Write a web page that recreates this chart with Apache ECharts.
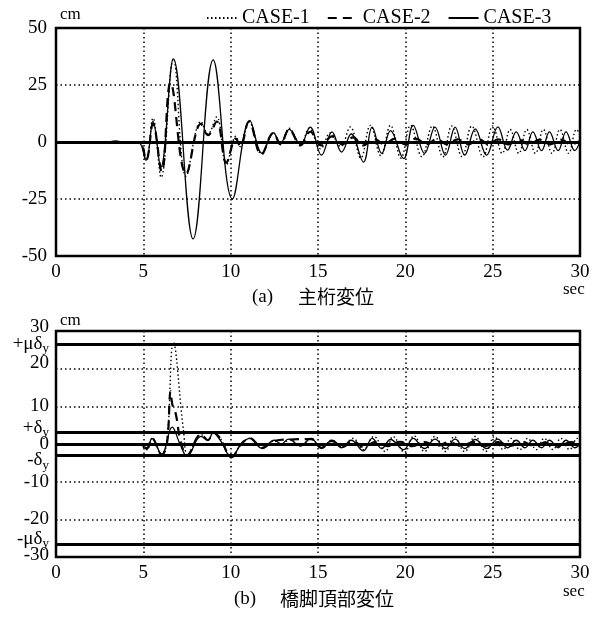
<!DOCTYPE html>
<html><head><meta charset="utf-8">
<script src="https://cdn.jsdelivr.net/npm/echarts@6/dist/echarts.min.js"></script>
<style>html,body{margin:0;padding:0;background:#fff}#c{width:612px;height:618px}</style>
</head><body><div id="c"></div>
<script>
// ---- data ----
const caseNames = ['CASE-1', 'CASE-2', 'CASE-3'];
const xTickInterval = 5;
const xRange = [0, 30];
const girderRange = [-50, 50];
const girderTickInterval = 25;
const pierRange = [-30, 30];
const pierTickInterval = 10;
const deltaY = 3;
const muDeltaY = 26.5;
const pierRefValues = [0, deltaY, -deltaY, muDeltaY, -muDeltaY];
const pierRefTexts = ['', '{nu|+δ}{su|y}', '{nd|-δ}{sd|y}', '{n|+μδ}{s|y}', '{nu|-μδ}{su|y}'];
const pierTickValues = [-30, -20, -10, 0, 10, 20, 30];
const pierTickTexts = ['{u3|-30}', '-20', '-10', '0', '10', '{u|20}', '{u2|30}'];
const captionA = ['(a)', '主桁変位'];
const captionB = ['(b)', '橋脚頂部変位'];

// (a) girder displacement [sec, cm]
const girderCase1 = [[0,0],[4.7,0],[5.15,-8],[5.55,10.5],[6.02,-15.5],[6.72,36.5],[7.45,-15],[8.3,9],[8.7,3.5],[9.2,11],[9.75,-10],[10.3,2.5],[10.55,-2],[11.05,9],[11.75,-5],[12.45,4],[12.85,-1],[13.35,6],[14.0,-1.5],[14.5,6],[15.15,-3],[15.7,4],[16.3,-2],[16.85,6.6],[17.45,-7],[18.0,7.3],[18.6,-6],[19.15,7.3],[19.75,-7],[20.3,7.3],[20.95,-6.5],[21.55,7],[22.15,-6.5],[22.65,7],[23.25,-6.5],[23.8,7],[24.45,-6.5],[25.0,7],[25.55,-5],[26.0,5.5],[26.5,-5],[26.95,5.5],[27.45,-5],[27.9,5.5],[28.4,-5],[28.85,5.5],[29.35,-5],[29.8,5.5],[30,3]];
const girderCase2 = [[0,0],[4.7,0],[5.15,-8],[5.55,8],[6.05,-13],[6.56,26],[7.45,-14],[8.3,8],[8.7,3],[9.2,9],[9.75,-9],[10.3,1.5],[10.55,-2],[11.05,9],[11.75,-5.5],[12.45,4],[12.85,-1],[13.35,5.5],[14.0,-1.5],[14.55,4.5],[15.2,-1.5],[15.8,2.5],[16.4,-1],[17.0,2],[17.6,-1.5],[18.2,1.5],[18.8,-1],[19.4,1.5],[20.0,-1],[20.6,1.5],[21.2,-1],[21.8,1.2],[22.4,-1],[23.0,1.2],[23.6,-1],[24.2,1.2],[24.8,-1],[25.3,1.2],[25.9,-1],[26.5,1],[27.1,-1],[27.7,1],[28.3,-1],[28.9,1],[29.5,-1],[30,0.5]];
const girderCase3 = [[0,0],[3.0,0],[3.4,0.5],[3.8,0],[4.7,0],[5.15,-8],[5.55,9],[6.0,-11],[6.72,36.5],[7.85,-42.5],[9.0,36],[10.1,-25],[11.1,9.5],[11.8,-5],[12.45,4],[12.85,-0.5],[13.35,5.5],[14.0,-1],[14.55,6.5],[15.2,-5.8],[15.8,4.4],[16.35,-4.4],[16.9,3.5],[17.6,-8.8],[18.1,6.5],[18.65,-5],[19.15,5],[19.9,-7.3],[20.45,7.3],[21.1,-5],[21.7,6.5],[22.3,-5.8],[22.85,6.5],[23.4,-5.8],[24.0,5.8],[24.65,-5.8],[25.3,6.6],[25.85,-3.6],[26.35,4.4],[26.85,-3.8],[27.3,4.4],[27.8,-3.8],[28.25,4.4],[28.75,-3.8],[29.2,4.4],[29.7,-3.8],[30,0.5]];

// (b) pier-top displacement [sec, cm]
const pierCase1 = [[0,0],[4.7,0],[5.2,-1.5],[5.5,1.5],[6.05,-2.8],[6.35,0.5],[6.72,27],[7.3,3.5],[7.55,-3],[8.3,2.5],[8.7,1],[9.0,3],[9.4,1.5],[10.05,-3.5],[10.6,0],[11.1,1.5],[11.8,-1],[12.5,0.8],[12.9,0],[13.4,1.2],[14.0,-0.5],[14.6,1.5],[15.2,-1],[15.8,1],[16.4,-0.8],[17.0,1.5],[17.6,-1.5],[18.2,2],[18.85,-2],[19.3,2],[19.95,-2.2],[20.5,2.2],[21.1,-2],[21.7,2],[22.3,-2],[22.8,2],[23.4,-2],[24.0,2],[24.6,-2],[25.1,2],[25.6,-1.5],[26.05,1.5],[26.55,-1.5],[27.0,1.5],[27.5,-1.5],[27.95,1.5],[28.45,-1.5],[28.9,1.5],[29.4,-1.5],[29.85,1.5],[30,1]];
const pierCase2 = [[0,0],[4.7,0],[5.2,-1.2],[5.5,1.5],[6.05,-2.8],[6.35,0],[6.56,14],[6.66,10.5],[6.8,9],[6.92,6.5],[7.1,1.5],[7.5,-3],[8.3,2.5],[8.7,1],[9.0,3],[9.4,1.5],[10.05,-3.5],[10.6,0],[11.1,1.5],[11.8,-1],[12.5,0.8],[13.4,1.2],[14.6,1.3],[15.2,-1],[15.8,0.8],[16.4,-0.8],[17.0,0.8],[17.6,-0.8],[18.3,0.6],[19.0,-0.6],[19.7,0.6],[20.4,-0.6],[21.1,0.5],[21.8,-0.5],[22.5,0.5],[23.2,-0.5],[23.9,0.5],[24.6,-0.5],[25.3,0.5],[26.0,-0.5],[26.7,0.5],[27.4,-0.5],[28.1,0.5],[28.8,-0.5],[29.5,0.5],[30,0]];
const pierCase3 = [[0,0],[4.7,0],[5.2,-1],[5.5,1.5],[6.05,-2.8],[6.65,4.5],[7.1,0],[7.5,-3.2],[8.3,2],[8.7,1],[9.0,3],[9.4,1],[10.05,-3.5],[10.6,0],[11.1,1.5],[11.8,-1.2],[12.5,1],[12.9,0],[13.3,1.3],[14.0,-0.5],[14.6,1.5],[15.2,-1.2],[15.8,1],[16.35,-1],[16.9,1],[17.6,-1.8],[18.1,1.5],[18.65,-1.2],[19.15,1.2],[19.9,-1.5],[20.45,1.5],[21.1,-1.2],[21.7,1.3],[22.3,-1.2],[22.85,1.3],[23.4,-1.2],[24.0,1.2],[24.65,-1.2],[25.3,1.3],[25.85,-1],[26.35,1],[26.85,-1],[27.3,1],[27.8,-1],[28.25,1],[28.75,-1],[29.2,1],[29.7,-1],[30,0]];

// ---- chart ----
const SERIF = '"Liberation Serif", "DejaVu Serif", serif';
const CJK = '"Noto Sans CJK JP", sans-serif';
const lineStyles = [
  { color: '#000', width: 1.4, type: [1.5, 2.5] },
  { color: '#000', width: 2.2, type: [9, 6] },
  { color: '#000', width: 1.3, type: 'solid' }
];
const base = { fontFamily: SERIF, fontSize: 19, color: '#000' };
const sub = { fontFamily: SERIF, fontSize: 13, color: '#000' };
const richStyles = {
  n: base,
  s: Object.assign({ padding: [9, 0, 0, 0] }, sub),
  u: Object.assign({ padding: [0, 0, 12, 0] }, base),
  u2: Object.assign({ padding: [0, 0, 8, 0] }, base),
  u3: Object.assign({ padding: [0, 0, 3, 0] }, base),
  nu: Object.assign({ padding: [0, 0, 10, 0] }, base),
  su: sub,
  nd: Object.assign({ padding: [10, 0, 0, 0] }, base),
  sd: Object.assign({ padding: [20, 0, 0, 0] }, sub)
};
const chart = echarts.init(document.getElementById('c'), null, { renderer: 'canvas' });

function xAxisCfg(gi) {
  return {
    type: 'value', gridIndex: gi, min: xRange[0], max: xRange[1], interval: xTickInterval,
    axisLine: { show: false }, axisTick: { show: false },
    axisLabel: { color: '#000', fontFamily: SERIF, fontSize: 19, margin: 7 },
    splitLine: { show: true, lineStyle: { color: '#000', width: 1.5, type: [1.5, 3] } }
  };
}
function refLines(values, texts) {
  return {
    silent: true, symbol: ['none', 'none'], animation: false,
    lineStyle: { color: '#000', width: 3, type: 'solid' },
    label: { show: false },
    data: values.map((v, k) => ({
      yAxis: v,
      label: texts && texts[k] ? {
        show: true, position: 'start', distance: 7, formatter: texts[k],
        color: '#000', fontFamily: SERIF, fontSize: 19, rich: richStyles
      } : { show: false }
    }))
  };
}
function makeSeries(datasets, gi, refs, refTexts) {
  return datasets.map((d, i) => ({
    name: caseNames[i], type: 'line', xAxisIndex: gi, yAxisIndex: gi,
    data: d, symbol: 'none', smooth: 0.4, lineStyle: lineStyles[i], itemStyle: { color: '#000' },
    z: 3 - i, animation: false,
    markLine: i === 2 ? refLines(refs, refTexts) : undefined
  }));
}

const option = {
  backgroundColor: '#fff',
  animation: false,
  legend: {
    data: caseNames, left: 201, top: 3, itemWidth: 30, itemHeight: 12, itemGap: 17,
    textStyle: { color: '#000', fontFamily: SERIF, fontSize: 20 },
    itemStyle: { color: 'transparent', borderWidth: 0 }
  },
  grid: [
    { left: 56, width: 524, top: 28, height: 228, show: true, borderColor: '#000', borderWidth: 2.5 },
    { left: 56, width: 524, top: 331, height: 226, show: true, borderColor: '#000', borderWidth: 2.5 }
  ],
  xAxis: [xAxisCfg(0), xAxisCfg(1)],
  yAxis: [
    {
      type: 'value', gridIndex: 0, min: girderRange[0], max: girderRange[1], interval: girderTickInterval,
      axisLine: { show: false }, axisTick: { show: false },
      axisLabel: { color: '#000', fontFamily: SERIF, fontSize: 19, margin: 9 },
      splitLine: { show: true, lineStyle: { color: '#000', width: 1.5, type: [1.5, 3] } }
    },
    {
      type: 'value', gridIndex: 1, min: pierRange[0], max: pierRange[1], interval: pierTickInterval,
      axisLine: { show: false }, axisTick: { show: false },
      axisLabel: {
        color: '#000', fontFamily: SERIF, fontSize: 19, margin: 7,
        showMinLabel: true, showMaxLabel: true,
        formatter: v => { const k = pierTickValues.indexOf(v); return k >= 0 ? pierTickTexts[k] : String(v); },
        rich: richStyles
      },
      splitLine: { show: true, lineStyle: { color: '#000', width: 1.5, type: [1.5, 3] } }
    }
  ],
  series: [
    ...makeSeries([girderCase1, girderCase2, girderCase3], 0, [0], null),
    ...makeSeries([pierCase1, pierCase2, pierCase3], 1, pierRefValues, pierRefTexts)
  ],
  graphic: [
    { type: 'text', left: 60, top: 6, style: { text: 'cm', font: '17px ' + SERIF, fill: '#000' } },
    { type: 'text', left: 60, top: 312, style: { text: 'cm', font: '17px ' + SERIF, fill: '#000' } },
    { type: 'text', left: 563, top: 281, style: { text: 'sec', font: '17px ' + SERIF, fill: '#000' } },
    { type: 'text', left: 563, top: 583, style: { text: 'sec', font: '17px ' + SERIF, fill: '#000' } },
    { type: 'text', left: 252, top: 288, style: { text: captionA[0], font: '19px ' + SERIF, fill: '#000' } },
    { type: 'text', left: 298, top: 287, style: { text: captionA[1], font: '19px ' + CJK, fill: '#000' } },
    { type: 'text', left: 234, top: 590, style: { text: captionB[0], font: '19px ' + SERIF, fill: '#000' } },
    { type: 'text', left: 280, top: 589, style: { text: captionB[1], font: '19px ' + CJK, fill: '#000' } }
  ]
};
chart.setOption(option);
</script></body></html>
